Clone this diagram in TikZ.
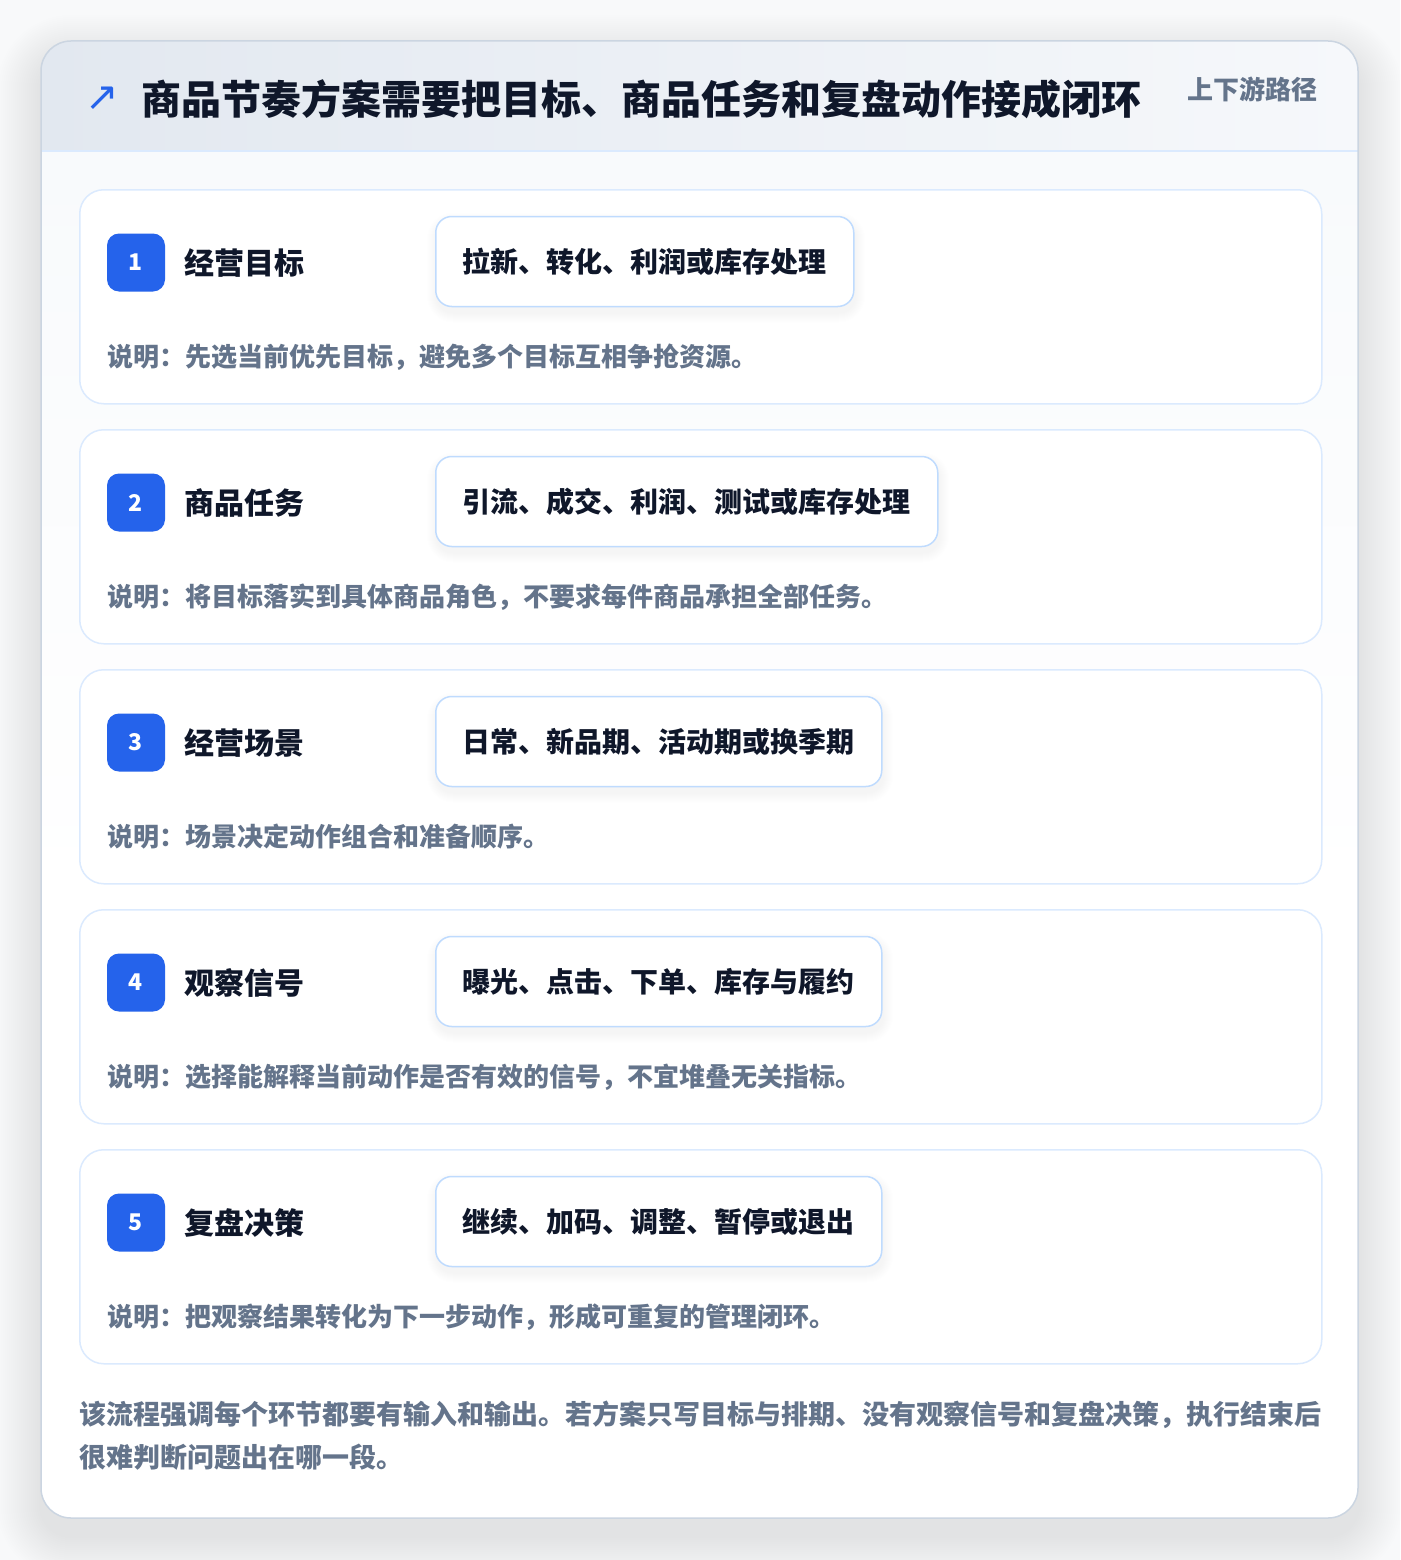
\documentclass[tikz,border=0pt]{standalone}
\usepackage{fontspec}
\setmainfont{Noto Sans CJK SC}
\newfontfamily\symfont{DejaVu Sans}
\definecolor{pagebg}{HTML}{F8F9FA}
\definecolor{accent}{HTML}{2563EB}
\definecolor{inkdark}{HTML}{0F172A}
\definecolor{slate}{HTML}{64748B}
\definecolor{cardline}{HTML}{DBEAFE}
\definecolor{pillline}{HTML}{BFDBFE}
\definecolor{outerline}{HTML}{CBD5E1}
\definecolor{headl}{HTML}{E2E8F0}
\definecolor{headr}{HTML}{F6F8FB}
\definecolor{bodytop}{HTML}{F8FAFC}
\definecolor{shadowc}{HTML}{334155}
\tikzset{
  cardbox/.style={draw=cardline, line width=1.5pt, fill=white, rounded corners=24pt,
    minimum width=1242pt, minimum height=214pt, inner sep=0pt, anchor=north west},
  badge/.style={fill=accent, rounded corners=12pt, minimum width=58pt, minimum height=58pt,
    inner sep=0pt, text=white, font=\bfseries\fontsize{23}{26}\selectfont},
  steplabel/.style={anchor=west, inner sep=0pt, text=inkdark, font=\bfseries\fontsize{30}{36}\selectfont},
  pill/.style={anchor=west, draw=pillline, line width=1.5pt, fill=white, rounded corners=16pt,
    minimum height=90pt, inner xsep=27pt, inner ysep=0pt, text=inkdark,
    font=\bfseries\fontsize{28}{34}\selectfont},
  notetext/.style={anchor=west, inner sep=0pt, text=slate, font=\bfseries\fontsize{26}{30}\selectfont},
  foottext/.style={anchor=west, inner sep=0pt, text=slate, font=\bfseries\fontsize{27}{32}\selectfont},
}
\begin{document}
\begin{tikzpicture}[x=1pt,y=-1pt]
\useasboundingbox (0,0) rectangle (1400,1560);
\fill[pagebg] (0,0) rectangle (1400,1560);
% soft layered shadow of the outer card
\foreach \k in {1,...,22}{
  \fill[shadowc, opacity=0.0045, rounded corners={30pt+\k*2pt}]
    ({41-\k*2},{41-\k*2+18}) rectangle ({1358+\k*2},{1518+\k*2+18});
}
% outer card
\path[fill=white, rounded corners=30pt] (41,41) rectangle (1358,1518);
\begin{scope}
  \clip[rounded corners=30pt] (41,41) rectangle (1358,1518);
  \shade[top color=bodytop, bottom color=white] (41,151) rectangle (1358,900);
  \shade[left color=headl, right color=headr] (41,41) rectangle (1358,151);
  \draw[cardline, line width=1.5pt] (41,151) -- (1358,151);
\end{scope}
\draw[outerline, line width=1.5pt, rounded corners=30pt] (41,41) rectangle (1358,1518);
% header
\node[anchor=center, inner sep=0pt, text=accent, font=\symfont\fontsize{40}{44}\selectfont] (icon) at (102,99) {↗};
\node[anchor=west, inner sep=0pt, text=inkdark, font=\bfseries\fontsize{40}{46}\selectfont] (title) at (141,99) {商品节奏方案需要把目标、商品任务和复盘动作接成闭环};
\node[anchor=east, inner sep=0pt, text=slate, font=\bfseries\fontsize{26}{30}\selectfont] (tag) at (1318,89) {上下游路径};
% cards
\foreach \i/\lab/\pilltext/\note/\pw in {
  1/经营目标/拉新、转化、利润或库存处理/说明：先选当前优先目标，避免多个目标互相争抢资源。/418,
  2/商品任务/引流、成交、利润、测试或库存处理/说明：将目标落实到具体商品角色，不要求每件商品承担全部任务。/502,
  3/经营场景/日常、新品期、活动期或换季期/说明：场景决定动作组合和准备顺序。/446,
  4/观察信号/曝光、点击、下单、库存与履约/说明：选择能解释当前动作是否有效的信号，不宜堆叠无关指标。/446,
  5/复盘决策/继续、加码、调整、暂停或退出/说明：把观察结果转化为下一步动作，形成可重复的管理闭环。/446}{
  \pgfmathsetmacro{\top}{189+240*(\i-1)}
  \node[cardbox] (card\i) at (79,\top) {};
  % soft shadow of the pill
  \foreach \k in {1,...,10}{
    \fill[shadowc, opacity=0.005, rounded corners={16pt+\k*1pt}]
      ({435-\k+2},{\top+27.5-\k+6}) rectangle ({435+\pw+\k+2},{\top+117.5+\k+6});
  }
  \node[badge] (badge\i) at (136,\top+73.5) {\i};
  \node[steplabel] (label\i) at (184,\top+74) {\lab};
  \node[pill] (pill\i) at (435,\top+72.5) {\pilltext};
  \node[notetext] (note\i) at (107,\top+168) {\note};
}
% footer
\node[foottext] (foot1) at (79,1415) {该流程强调每个环节都要有输入和输出。若方案只写目标与排期、没有观察信号和复盘决策，执行结束后};
\node[foottext] (foot2) at (79,1457) {很难判断问题出在哪一段。};
\end{tikzpicture}
\end{document}
